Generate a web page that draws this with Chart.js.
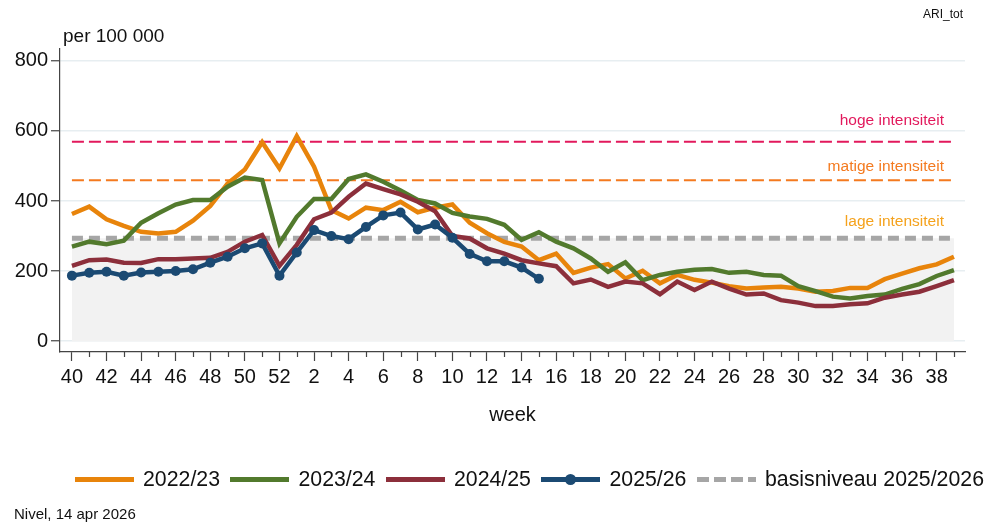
<!DOCTYPE html>
<html>
<head>
<meta charset="utf-8">
<title>ARI_tot</title>
<script src="https://cdn.jsdelivr.net/npm/chart.js@4.4.1/dist/chart.umd.min.js"></script>
<style>
    body { margin: 0; background: #fff; font-family: 'Liberation Sans', Arial, sans-serif; }
    #wrap { position: relative; width: 997px; height: 524px; overflow: hidden; }
    #chart { position: absolute; left: 0; top: 0; }
    .txt { position: absolute; white-space: nowrap; color: #111; line-height: 1; }
    #legend { position: absolute; left: 75px; top: 467px; width: 960px; display: flex; align-items: center; font-size: 21.3px; color: #111; white-space: nowrap; }
    .item { display: flex; align-items: center; margin-right: 10.5px; flex-shrink: 0; }
    .sym { position: relative; width: 59px; height: 5px; margin-right: 9px; flex-shrink: 0; }
    .dot { position: absolute; left: 24px; top: -3px; width: 11px; height: 11px; border-radius: 50%; }
</style>
</head>
<body>
<div id="wrap">
    <canvas id="chart" width="997" height="524"></canvas>
    <div class="txt" style="left:63px; top:26px; font-size:19px;">per 100 000</div>
    <div class="txt" style="left:923px; top:8px; font-size:12px;">ARI_tot</div>
    <div class="txt" style="left:14px; top:506px; font-size:15px;">Nivel, 14 apr 2026</div>
    <div id="legend"></div>
</div>
<script>
// Week numbers on the x axis (season starts at week 40)
const weeks = [40, 41, 42, 43, 44, 45, 46, 47, 48, 49, 50, 51, 52,
    1, 2, 3, 4, 5, 6, 7, 8, 9, 10, 11, 12, 13, 14, 15, 16, 17, 18, 19, 20,
    21, 22, 23, 24, 25, 26, 27, 28, 29, 30, 31, 32, 33, 34, 35, 36, 37, 38, 39];

// Series values (per 100 000)
const season2223 = [363, 384, 348, 329, 312, 307, 312, 344, 386, 450, 490, 568, 493,
    585, 498, 374, 350, 381, 374, 398, 368, 381, 390, 338, 308, 283, 270, 231, 250, 195, 210,
    220, 179, 201, 165, 189, 175, 167, 157, 150, 153, 155, 150, 141, 143, 152, 152, 177, 193, 208, 219, 241];
const season2324 = [270, 284, 277, 287, 338, 365, 390, 403, 403, 441, 467, 460, 279,
    355, 406, 406, 463, 476, 455, 430, 403, 393, 366, 356, 349, 332, 289, 311, 284, 265, 236,
    198, 225, 174, 189, 198, 204, 206, 195, 198, 189, 187, 157, 143, 127, 122, 129, 133, 149, 163, 186, 203];
const season2425 = [215, 231, 233, 224, 223, 234, 234, 236, 238, 255, 284, 303, 215,
    275, 348, 367, 412, 450, 434, 419, 398, 371, 300, 293, 265, 250, 231, 222, 214, 165, 176,
    155, 170, 165, 134, 170, 146, 170, 150, 133, 136, 117, 110, 100, 100, 105, 108, 124, 133, 141, 157, 174];
const season2526 = [187, 195, 198, 187, 196, 198, 200, 205, 224, 241, 265, 279, 187,
    253, 317, 300, 291, 326, 359, 367, 319, 333, 295, 249, 228, 228, 210, 178];

// Threshold levels
const basisLevel = 294;
const levelNames = ['lage intensiteit', 'matige intensiteit', 'hoge intensiteit'];
const levelValues = [294, 459, 569];
const levelColors = ['#f5a21c', '#f47a1f', '#e2195c'];

// Y axis ticks
const yTicks = [0, 200, 400, 600, 800];

const seriesNames = ['2022/23', '2023/24', '2024/25', '2025/26'];
const seriesColors = ['#e8840b', '#527a2d', '#8c2f3b', '#1b4a73'];
const gridColor = '#e7eef1';
const axisColor = '#444';

function toPoints(values) {
    return values.map((v, i) => ({ x: i, y: v }));
}

function flatLine(value) {
    return [{ x: 0, y: value }, { x: weeks.length - 1, y: value }];
}

// Labels above the intensity lines + short minor ticks on x axis
const extrasPlugin = {
    id: 'extras',
    afterDraw(chart) {
        const { ctx, scales: { x, y }, chartArea } = chart;
        ctx.save();
        ctx.strokeStyle = axisColor;
        ctx.lineWidth = 1.2;
        weeks.forEach((w, i) => {
            if (i % 2 === 1) {
                const px = Math.round(x.getPixelForValue(i)) + 0.5;
                ctx.beginPath();
                ctx.moveTo(px, chartArea.bottom);
                ctx.lineTo(px, chartArea.bottom + 5);
                ctx.stroke();
            }
        });
        const offsets = [16, 14, 21];
        ctx.font = "15.5px 'Liberation Sans', Arial, sans-serif";
        ctx.textAlign = 'right';
        ctx.textBaseline = 'middle';
        const right = x.getPixelForValue(weeks.length - 1) - 10;
        levelNames.forEach((name, i) => {
            ctx.fillStyle = levelColors[i];
            ctx.fillText(name, right, y.getPixelForValue(levelValues[i]) - offsets[i]);
        });
        ctx.restore();
    }
};

function initChart() {
    const canvas = document.getElementById('chart');
    Chart.defaults.font.family = "'Liberation Sans', Arial, sans-serif";
    Chart.defaults.color = '#111';

    const seasons = [season2223, season2324, season2425, season2526];
    const datasets = seasons.map((values, i) => ({
        label: seriesNames[i],
        data: toPoints(values),
        borderColor: seriesColors[i],
        backgroundColor: seriesColors[i],
        borderWidth: 4.5,
        pointRadius: i === 3 ? 5 : 0,
        pointBorderWidth: 0,
        tension: 0,
        fill: false,
        order: 3 - i
    }));

    // Intensity threshold lines
    datasets.push({
        label: 'matige',
        data: flatLine(levelValues[1]),
        borderColor: levelColors[1],
        borderWidth: 2,
        borderDash: [12, 5],
        pointRadius: 0,
        fill: false,
        order: 4
    });
    datasets.push({
        label: 'hoge',
        data: flatLine(levelValues[2]),
        borderColor: levelColors[2],
        borderWidth: 2,
        borderDash: [12, 5],
        pointRadius: 0,
        fill: false,
        order: 4
    });
    // Basisniveau with grey area below
    datasets.push({
        label: 'basisniveau 2025/2026',
        data: flatLine(basisLevel),
        borderColor: '#a6a6a6',
        backgroundColor: '#f2f2f2',
        borderWidth: 5,
        borderDash: [11, 6],
        pointRadius: 0,
        fill: 'origin',
        order: 5
    });

    new Chart(canvas, {
        type: 'line',
        data: { datasets: datasets },
        options: {
            responsive: false,
            animation: false,
            layout: { padding: { top: 49, left: 0, right: 32, bottom: 97 } },
            plugins: {
                legend: { display: false },
                tooltip: { enabled: false }
            },
            scales: {
                x: {
                    type: 'linear',
                    min: -0.69,
                    max: weeks.length - 1 + 0.64,
                    afterBuildTicks: (scale) => {
                        scale.ticks = weeks.map((w, i) => ({ value: i }));
                    },
                    afterFit: (scale) => { scale.height = 75; },
                    border: { display: true, color: axisColor, width: 1.2 },
                    grid: {
                        drawOnChartArea: false,
                        drawTicks: true,
                        tickLength: 9,
                        tickWidth: 1.2,
                        tickColor: (ctx) => (ctx.tick && ctx.tick.value % 2 === 0) ? axisColor : 'rgba(0,0,0,0)'
                    },
                    ticks: {
                        autoSkip: false,
                        maxRotation: 0,
                        padding: 4,
                        font: { size: 20 },
                        color: '#111',
                        callback: (value) => (value % 2 === 0) ? String(weeks[value]) : ''
                    },
                    title: {
                        display: true,
                        text: 'week',
                        font: { size: 20 },
                        color: '#111',
                        padding: { top: 0, bottom: 0 }
                    }
                },
                y: {
                    min: -31,
                    max: 834,
                    afterBuildTicks: (scale) => {
                        scale.ticks = yTicks.map(v => ({ value: v }));
                    },
                    afterFit: (scale) => { scale.width = 60; },
                    border: { display: true, color: axisColor, width: 1.2 },
                    grid: {
                        color: gridColor,
                        lineWidth: 1.5,
                        drawTicks: true,
                        tickLength: 9,
                        tickColor: axisColor,
                        tickWidth: 1.2
                    },
                    ticks: {
                        padding: 3,
                        font: { size: 20 },
                        color: '#111'
                    }
                }
            }
        },
        plugins: [extrasPlugin]
    });
}

// Legend built from the series names and colours
function buildLegend() {
    const legend = document.getElementById('legend');
    const entries = seriesNames.map((name, i) => ({ name: name, color: seriesColors[i], dot: i === 3 }));
    entries.push({ name: 'basisniveau 2025/2026', color: null, dot: false });
    entries.forEach(e => {
        const item = document.createElement('div');
        item.className = 'item';
        const sym = document.createElement('div');
        sym.className = 'sym';
        if (e.color) {
            sym.style.background = e.color;
        } else {
            sym.style.background = 'repeating-linear-gradient(90deg, #a6a6a6 0 12px, transparent 12px 17px)';
        }
        if (e.dot) {
            const dot = document.createElement('div');
            dot.className = 'dot';
            dot.style.background = e.color;
            sym.appendChild(dot);
        }
        const label = document.createElement('span');
        label.textContent = e.name;
        item.appendChild(sym);
        item.appendChild(label);
        legend.appendChild(item);
    });
}

buildLegend();
initChart();
</script>
</body>
</html>
